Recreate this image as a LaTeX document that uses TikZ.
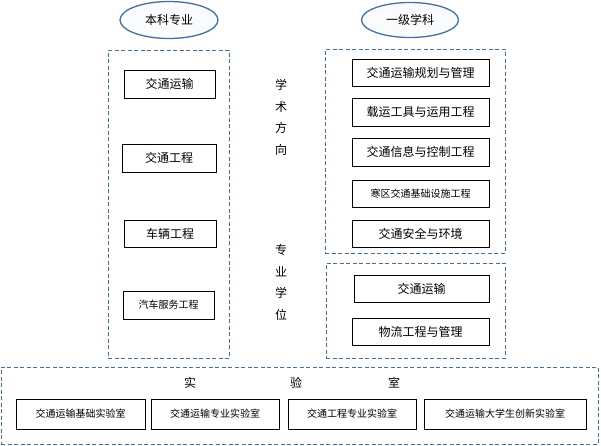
\documentclass[tikz,border=0pt]{standalone}
\usepackage{fontspec}
\setmainfont{Noto Sans CJK SC}
\definecolor{dashblue}{RGB}{65,113,156}
\definecolor{ellfill}{RGB}{250,251,253}
\tikzset{
  box/.style={draw=black, line width=1pt, inner sep=0pt, font=\fontsize{12}{14}\selectfont},
  smallbox/.style={box, font=\fontsize{10}{12}\selectfont},
  group/.style={draw=dashblue, dash pattern=on 4pt off 2.5pt, line width=0.9pt, inner sep=0pt},
  oval/.style={ellipse, draw=dashblue, line width=1.3pt, fill=ellfill, inner sep=0pt, font=\fontsize{12}{14}\selectfont},
  lbl/.style={inner sep=0pt, font=\fontsize{12}{14}\selectfont}
}
\usetikzlibrary{shapes.geometric}
\begin{document}
\begin{tikzpicture}[x=1pt,y=-1pt]
\useasboundingbox (0,0) rectangle (601,445);
% ellipses
\node[oval, minimum width=98pt, minimum height=37pt] (e1) at (169,20) {本科专业};
\node[oval, minimum width=97pt, minimum height=35pt] (e2) at (410,20) {一级学科};
% dashed groups
\node[group, minimum width=121pt, minimum height=308pt] (gL) at (168.5,204) {};
\node[group, minimum width=180pt, minimum height=204pt] (gR1) at (415,151) {};
\node[group, minimum width=179pt, minimum height=95pt] (gR2) at (415.5,310.5) {};
\node[group, minimum width=597pt, minimum height=77pt] (gB) at (299.5,405.5) {};
% left boxes
\node[box, minimum width=91pt, minimum height=28pt] (l1) at (169.5,84) {交通运输};
\node[box, minimum width=94pt, minimum height=28pt] (l2) at (169,158) {交通工程};
\node[box, minimum width=92pt, minimum height=27pt] (l3) at (170,233.5) {车辆工程};
\node[smallbox, minimum width=91pt, minimum height=28pt] (l4) at (168.5,305) {汽车服务工程};
% right boxes
\node[box, minimum width=137pt, minimum height=27pt] (r1) at (420.5,72.5) {交通运输规划与管理};
\node[box, minimum width=137pt, minimum height=28pt] (r2) at (420.5,112) {载运工具与运用工程};
\node[box, minimum width=137pt, minimum height=28pt] (r3) at (420.5,152) {交通信息与控制工程};
\node[smallbox, minimum width=137pt, minimum height=27pt] (r4) at (420.5,193.5) {寒区交通基础设施工程};
\node[box, minimum width=137pt, minimum height=27pt] (r5) at (420.5,233.5) {交通安全与环境};
\node[box, minimum width=135pt, minimum height=27pt] (r6) at (421.5,288.5) {交通运输};
\node[box, minimum width=137pt, minimum height=27pt] (r7) at (420.5,331.5) {物流工程与管理};
% middle vertical labels
\node[lbl] (m1) at (281,85) {学};
\node[lbl] (m2) at (281,107) {术};
\node[lbl] (m3) at (281,128) {方};
\node[lbl] (m4) at (281,150) {向};
\node[lbl] (m5) at (281,250) {专};
\node[lbl] (m6) at (281,272) {业};
\node[lbl] (m7) at (281,293) {学};
\node[lbl] (m8) at (281,315) {位};
% bottom labels
\node[lbl] (b1) at (190,383) {实};
\node[lbl] (b2) at (296,383) {验};
\node[lbl] (b3) at (394,383) {室};
% bottom boxes
\node[smallbox, minimum width=129pt, minimum height=30pt] (k1) at (80.5,414) {交通运输基础实验室};
\node[smallbox, minimum width=128pt, minimum height=30pt] (k2) at (215,414) {交通运输专业实验室};
\node[smallbox, minimum width=128pt, minimum height=30pt] (k3) at (352,414) {交通工程专业实验室};
\node[smallbox, minimum width=162pt, minimum height=30pt] (k4) at (505,414) {交通运输大学生创新实验室};
\end{tikzpicture}
\end{document}
